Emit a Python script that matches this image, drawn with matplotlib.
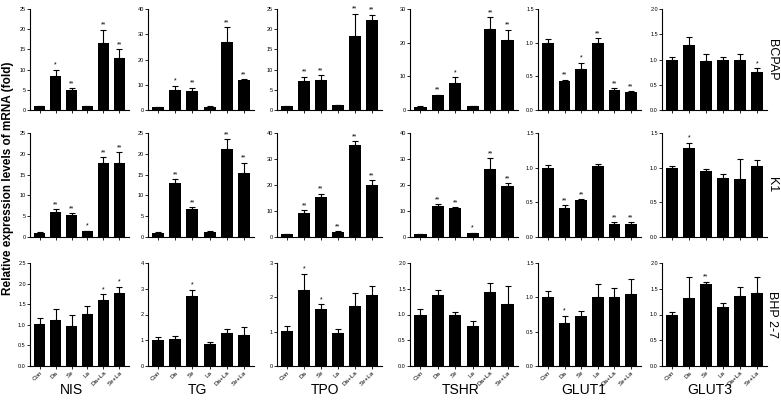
import matplotlib
matplotlib.use('Agg')
from matplotlib import pyplot as plt
import numpy as np

plt.rcParams['font.family'] = ['Liberation Sans', 'DejaVu Sans']

# data
groups = ['Con', 'Da', 'Se', 'La', 'Da+La', 'Se+La']
genes = ['NIS', 'TG', 'TPO', 'TSHR', 'GLUT1', 'GLUT3']
cell_lines = ['BCPAP', 'K1', 'BHP 2-7']

# BCPAP (rows = genes in order above)
bcpap_mean = [[1.0, 8.3, 5.0, 1.0, 16.7, 12.8],
              [1.0, 8.0, 7.6, 1.3, 27.1, 11.8],
              [1.0, 7.2, 7.4, 1.2, 18.3, 22.2],
              [1.0, 4.4, 7.9, 1.1, 24.2, 20.8],
              [1.0, 0.43, 0.61, 0.99, 0.30, 0.26],
              [1.0, 1.29, 0.98, 0.99, 0.99, 0.75]]
bcpap_err = [[0.1, 1.7, 0.4, 0.1, 3.2, 2.2],
             [0.1, 1.6, 1.2, 0.1, 5.6, 0.5],
             [0.1, 1.0, 1.2, 0.1, 5.5, 1.4],
             [0.1, 0.2, 1.8, 0.1, 3.4, 3.0],
             [0.05, 0.02, 0.09, 0.08, 0.02, 0.02],
             [0.04, 0.16, 0.12, 0.05, 0.12, 0.08]]
bcpap_sig = [['', '*', '**', '', '**', '**'],
             ['', '*', '**', '', '**', '**'],
             ['', '**', '**', '', '**', '**'],
             ['', '**', '*', '', '**', '**'],
             ['', '**', '*', '**', '**', '**'],
             ['', '', '', '', '', '*']]

# K1
k1_mean = [[1.0, 5.9, 5.4, 1.4, 17.8, 17.7],
           [1.0, 13.1, 6.7, 1.3, 21.2, 15.5],
           [1.0, 9.4, 15.4, 2.0, 35.4, 20.0],
           [1.0, 11.9, 11.0, 1.4, 26.3, 19.6],
           [1.0, 0.42, 0.535, 1.02, 0.185, 0.185],
           [1.0, 1.29, 0.95, 0.85, 0.84, 1.03]]
k1_err = [[0.1, 0.8, 0.3, 0.15, 1.4, 2.7],
          [0.1, 0.8, 0.4, 0.1, 2.3, 2.4],
          [0.1, 0.9, 1.3, 0.3, 1.4, 1.9],
          [0.1, 0.7, 0.5, 0.2, 4.0, 1.1],
          [0.04, 0.04, 0.01, 0.04, 0.025, 0.025],
          [0.02, 0.07, 0.03, 0.06, 0.29, 0.08]]
k1_sig = [['', '**', '**', '*', '**', '**'],
          ['', '**', '**', '', '**', '**'],
          ['', '**', '**', '**', '**', '**'],
          ['', '**', '**', '*', '**', '**'],
          ['', '**', '**', '', '**', '**'],
          ['', '*', '', '', '', '']]

# BHP 2-7
bhp_mean = [[1.02, 1.12, 0.97, 1.27, 1.59, 1.77],
            [1.0, 1.05, 2.70, 0.85, 1.28, 1.20],
            [1.02, 2.20, 1.65, 0.97, 1.75, 2.08],
            [1.0, 1.37, 0.99, 0.77, 1.43, 1.21],
            [1.0, 0.62, 0.73, 1.01, 1.0, 1.045],
            [1.0, 1.32, 1.59, 1.14, 1.36, 1.41]]
bhp_err = [[0.15, 0.27, 0.26, 0.18, 0.15, 0.15],
           [0.13, 0.11, 0.27, 0.09, 0.14, 0.30],
           [0.14, 0.49, 0.15, 0.12, 0.37, 0.24],
           [0.10, 0.11, 0.05, 0.10, 0.19, 0.34],
           [0.09, 0.11, 0.07, 0.18, 0.14, 0.22],
           [0.05, 0.40, 0.05, 0.08, 0.18, 0.32]]
bhp_sig = [['', '', '', '', '*', '*'],
           ['', '', '*', '', '', ''],
           ['', '*', '*', '', '', ''],
           ['', '', '', '', '', ''],
           ['', '*', '', '', '', ''],
           ['', '', '**', '', '', '']]

# y axis max and tick step per panel
ymax = [[25, 40, 25, 30, 1.5, 2.0],
        [25, 25, 40, 40, 1.5, 1.5],
        [2.5, 4, 3, 2.0, 1.5, 2.0]]
ystep = [[5, 10, 5, 10, 0.5, 0.5],
         [5, 5, 10, 10, 0.5, 0.5],
         [0.5, 1, 1, 0.5, 0.5, 0.5]]

means = [bcpap_mean, k1_mean, bhp_mean]
errs = [bcpap_err, k1_err, bhp_err]
sigs = [bcpap_sig, k1_sig, bhp_sig]

W, H = 781, 403
fig = plt.figure(figsize=(W / 100, H / 100), dpi=100)

# axes placement in pixels
col_left = [30, 148, 277, 410, 538, 662]
col_right = [129, 254, 382, 518, 641, 767]
row_top = [9, 133, 263]
row_bottom = [110, 237, 366]
title_x = [71, 197, 325, 461, 584, 710]

x = np.arange(len(groups))
for r in range(3):
    for c in range(6):
        l, rr = col_left[c], col_right[c]
        t, b = row_top[r], row_bottom[r]
        ax = fig.add_axes([l / W, 1 - b / H, (rr - l) / W, (b - t) / H])
        m = np.array(means[r][c])
        e = np.array(errs[r][c])
        ax.bar(x, m, width=0.7, color='black', zorder=2)
        ax.errorbar(x, m, yerr=[np.zeros_like(e), e], fmt='none', ecolor='black',
                    elinewidth=0.8, capsize=2.3, capthick=0.8, zorder=1)
        top = ymax[r][c]
        for i, s in enumerate(sigs[r][c]):
            if s:
                ax.text(x[i], m[i] + e[i] + top * 0.01, s, ha='center', va='bottom',
                        fontsize=5)
        ax.set_xlim(-0.6, 5.6)
        ax.set_ylim(0, top)
        step = ystep[r][c]
        ticks = np.arange(0, top + step / 2, step)
        ax.set_yticks(ticks)
        if step < 1:
            ax.set_yticklabels([f'{v:.1f}' for v in ticks])
        else:
            ax.set_yticklabels([f'{int(v)}' for v in ticks])
        ax.set_xticks(x)
        if r == 2:
            ax.set_xticklabels(groups, rotation=45, ha='right', rotation_mode='anchor',
                               fontsize=4.5)
        else:
            ax.set_xticklabels([])
        for sp in ['top', 'right']:
            ax.spines[sp].set_visible(False)
        for sp in ['left', 'bottom']:
            ax.spines[sp].set_linewidth(0.8)
        ax.tick_params(axis='both', direction='out', length=2, width=0.6, pad=1)
        ax.tick_params(axis='y', labelsize=4)

# column titles
for c, g in enumerate(genes):
    fig.text(title_x[c] / W, 1 - 390 / H, g, ha='center', va='center', fontsize=10)

# row labels on the right
for r, name in enumerate(cell_lines):
    yc = 1 - (row_top[r] + row_bottom[r]) / 2 / H
    fig.text(772 / W, yc, name, rotation=-90, ha='center', va='center', fontsize=9)

fig.text(8 / W, 1 - 178 / H, 'Relative expression levels of mRNA (fold)', rotation=90,
         ha='center', va='center', fontsize=8.5, fontweight='bold')

fig.savefig('out.png', dpi=100)
